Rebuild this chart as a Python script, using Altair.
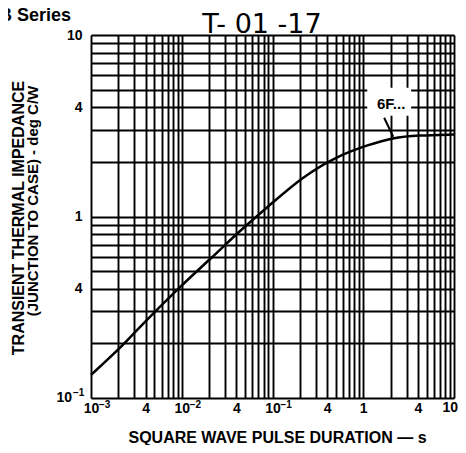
import altair as alt
import pandas as pd

# ---- data ----
pulse_s = [0.001, 0.002, 0.003, 0.0095, 0.022, 0.043, 0.1, 0.21, 0.5, 1.16, 2.1, 4.0, 10.0]
z_thjc = [0.134, 0.184, 0.229, 0.41, 0.60, 0.83, 1.19, 1.64, 2.14, 2.49, 2.72, 2.80, 2.83]

x_grid = [round(m * 10.0 ** e, 6) for e in range(-3, 1) for m in range(1, 10)] + [10.0]
y_grid = [round(m * 10.0 ** e, 6) for e in range(-1, 1) for m in range(1, 10)] + [10.0]

x_tick_vals = [0.001, 0.004, 0.01, 0.04, 0.1, 0.4, 1.0, 4.0]
x_tick_text = ["10", "4", "10", "4", "10", "4", "1", "4"]
x_last_val = [10.0]
x_last_text = ["10"]
x_exp_vals = [0.001, 0.01, 0.1]
x_exp_text = ["\u22123", "\u22122", "\u22121"]

y_tick_vals = [10.0, 4.0, 1.0, 0.4]
y_tick_text = ["10", "4", "1", "4"]
y_low_val = [0.1]
y_low_base = ["10"]
y_low_exp = ["\u22121"]

curve_label = ["6F..."]
label_pos_t = [2.03]
label_pos_z = [4.18]
label_box_t = [1.107, 3.37]
label_box_z = [5.12, 3.59]
leader_t = [1.70, 2.14]
leader_z = [3.50, 2.75]

W, H = 363, 363
FONT = "Liberation Sans"

def label_expr(vals, texts):
    expr = "''"
    for v, s in reversed(list(zip(vals, texts))):
        expr = f"abs(datum.value - {v}) < {v * 1e-6} ? '{s}' : ({expr})"
    return expr

xs = alt.Scale(type="log", domain=[0.001, 10], nice=False)
ys = alt.Scale(type="log", domain=[0.1, 10], nice=False)

common_axis = dict(
    grid=True, gridColor="black", gridWidth=1.9, gridOpacity=1,
    ticks=False, domain=False, labelOverlap=False, labelFlush=False, labelBound=False,
    labelFont=FONT, labelFontWeight="bold", labelFontSize=14, labelColor="black",
)
x_axis = alt.Axis(
    values=x_grid, labelExpr=label_expr(x_tick_vals, x_tick_text), labelPadding=3,
    title="SQUARE WAVE PULSE DURATION \u2014 s", titleFont=FONT, titleFontWeight="bold",
    titleFontSize=16, titleColor="black", titleX=186, titleY=44, titleAlign="center",
    titleBaseline="alphabetic", **common_axis)
y_axis = alt.Axis(
    values=y_grid, labelExpr=label_expr(y_tick_vals, y_tick_text), labelPadding=9,
    title=None, **common_axis)

def X(f="t:Q"):
    return alt.X(f, scale=xs, axis=x_axis)

def Y(f="z:Q"):
    return alt.Y(f, scale=ys, axis=y_axis)

curve_df = pd.DataFrame({"t": pulse_s, "z": z_thjc})
curve = alt.Chart(curve_df).mark_line(color="black", strokeWidth=2.5, interpolate="basis").encode(
    x=X(), y=Y())

xexp = alt.Chart(pd.DataFrame({"t": x_exp_vals, "s": x_exp_text})).mark_text(
    align="left", baseline="alphabetic", dx=8, fontSize=10, fontWeight="bold", font=FONT, color="black"
).encode(x=X(), y=alt.value(H + 10), text="s:N")

xlast = alt.Chart(pd.DataFrame({"t": x_last_val, "s": x_last_text})).mark_text(
    align="right", baseline="top", dx=4, fontSize=14, fontWeight="bold", font=FONT, color="black"
).encode(x=X(), y=alt.value(H + 3), text="s:N")

ylow_df = pd.DataFrame({"z": y_low_val, "b": y_low_base, "e": y_low_exp})
ylow_base = alt.Chart(ylow_df).mark_text(
    align="right", baseline="middle", fontSize=14, fontWeight="bold", font=FONT, color="black"
).encode(x=alt.value(-19), y=Y(), text="b:N")
ylow_exp = alt.Chart(ylow_df).mark_text(
    align="left", baseline="middle", dy=-5, fontSize=10, fontWeight="bold", font=FONT, color="black"
).encode(x=alt.value(-18), y=Y(), text="e:N")

ytitle1 = alt.Chart(pd.DataFrame({"s": ["TRANSIENT THERMAL IMPEDANCE"]})).mark_text(
    angle=270, align="center", baseline="alphabetic", fontSize=16, fontWeight="bold", font=FONT, color="black"
).encode(x=alt.value(-67), y=alt.value(183), text="s:N")
ytitle2 = alt.Chart(pd.DataFrame({"s": ["(JUNCTION TO CASE) - deg C/W"]})).mark_text(
    angle=270, align="center", baseline="alphabetic", fontSize=15, fontWeight="bold", font=FONT, color="black"
).encode(x=alt.value(-53), y=alt.value(166), text="s:N")

box_df = pd.DataFrame({"t": [label_box_t[0]], "t2": [label_box_t[1]], "z": [label_box_z[0]], "z2": [label_box_z[1]]})
box = alt.Chart(box_df).mark_rect(color="white").encode(x=X(), x2="t2:Q", y=Y(), y2="z2:Q")

lab = alt.Chart(pd.DataFrame({"t": label_pos_t, "z": label_pos_z, "s": curve_label})).mark_text(
    align="center", baseline="middle", fontSize=15, fontWeight="bold", font=FONT, color="black"
).encode(x=X(), y=Y(), text="s:N")

leader = alt.Chart(pd.DataFrame({"t": leader_t, "z": leader_z})).mark_line(
    color="black", strokeWidth=2).encode(x=X(), y=Y())

head = alt.Chart(pd.DataFrame({"s": ["B Series"]})).mark_text(
    align="right", baseline="alphabetic", fontSize=18, fontWeight="bold", font=FONT, color="black"
).encode(x=alt.value(-20), y=alt.value(-14), text="s:N")

hand = alt.Chart(pd.DataFrame({"s": ["T- 01 -17"]})).mark_text(
    align="center", baseline="alphabetic", fontSize=27, font="DejaVu Sans", color="black"
).encode(x=alt.value(171), y=alt.value(-2), text="s:N")

chart = alt.layer(curve, box, lab, leader, xexp, xlast, ylow_base, ylow_exp, ytitle1, ytitle2, head, hand).properties(
    width=W, height=H,
    autosize=alt.AutoSizeParams(type="none"),
    padding={"left": 83, "top": 27, "right": 4, "bottom": 47},
).configure_view(stroke="black", strokeWidth=3).configure(background="white")

chart.save("out.html", embed_options={"renderer": "svg", "actions": False})
